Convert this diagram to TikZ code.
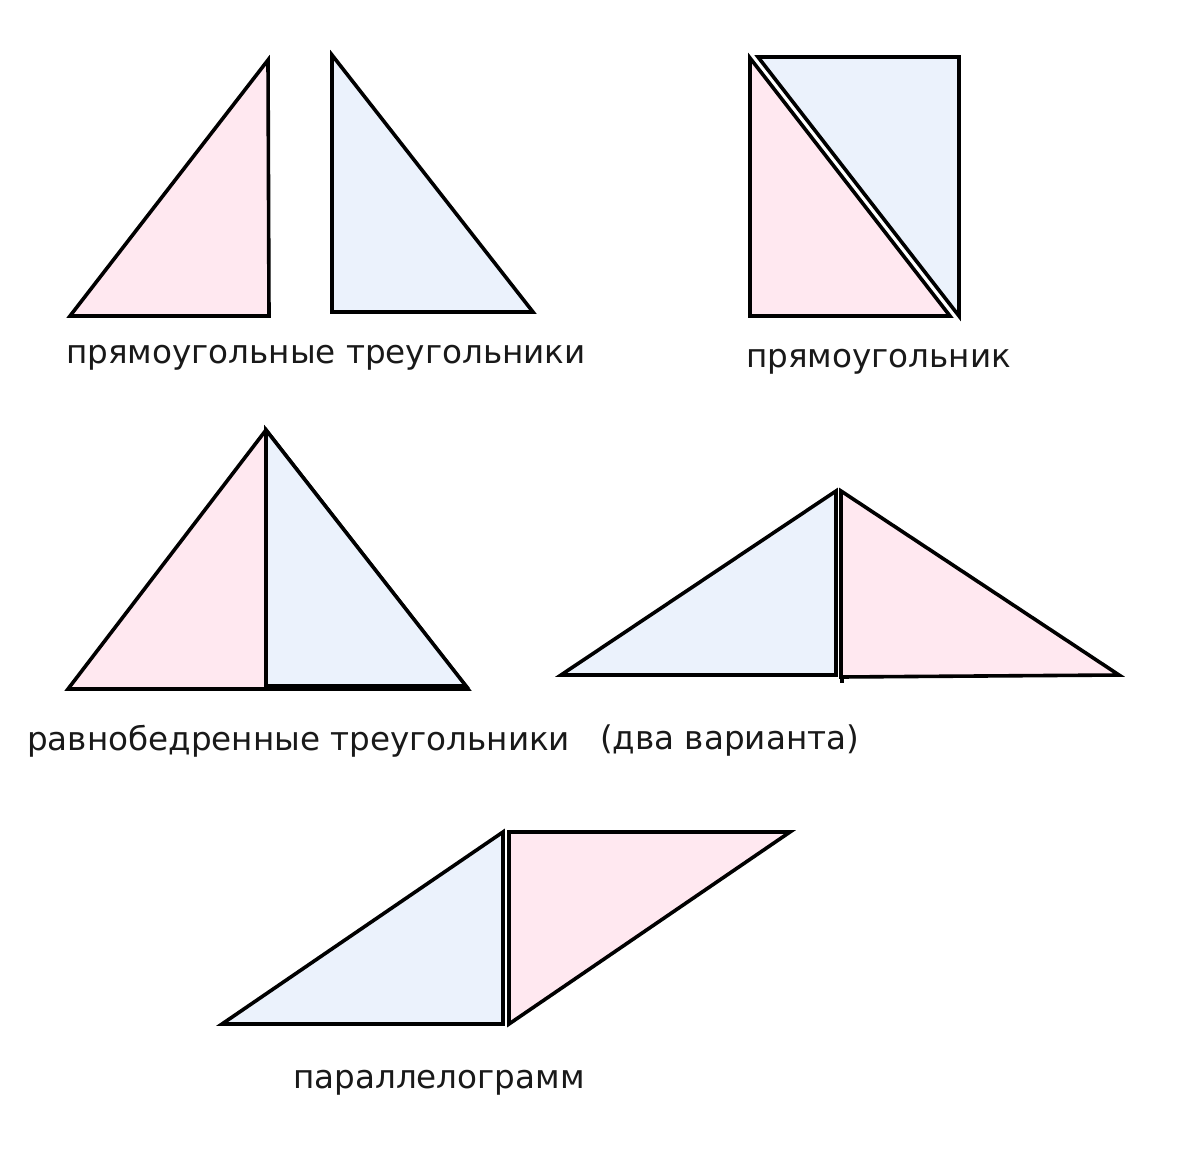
\documentclass[tikz,border=0pt]{standalone}
\usepackage{fontspec}
\setmainfont{DejaVu Sans}
\definecolor{pinkfill}{RGB}{255,232,240}
\definecolor{bluefill}{RGB}{235,242,252}
\tikzset{
  pinktri/.style={fill=pinkfill, draw=black, line width=3.6pt, line join=miter},
  bluetri/.style={fill=bluefill, draw=black, line width=3.6pt, line join=miter},
  lbl/.style={font=\fontsize{32.6}{38}\selectfont, text=black!90, inner sep=0pt, anchor=west}
}
\begin{document}
\begin{tikzpicture}[x=1pt,y=-1pt]
\useasboundingbox[fill=white] (0,0) rectangle (1200,1156);
% right triangles
\draw[pinktri] (70,316) -- (268,60) -- (269,316) -- cycle;
\draw[bluetri] (332,55) -- (332,312) -- (533,312) -- cycle;
\node[lbl] (l1) at (66,358) {прямоугольные треугольники};
% rectangle
\draw[pinktri] (750,58) -- (750,316) -- (950,316) -- cycle;
\draw[bluetri] (758,57) -- (959,57) -- (959,316) -- cycle;
\node[lbl] (l2) at (746,362) {прямоугольник};
% isosceles 1
\draw[pinktri] (266,430) -- (68,689) -- (468,689) -- cycle;
\draw[bluetri] (266,430) -- (266,686) -- (466,686) -- cycle;
\node[lbl] (l3) at (27,741) {равнобедренные треугольники};
% isosceles 2
\draw[bluetri] (561,675) -- (836,491) -- (836,675) -- cycle;
\draw[pinktri] (841,491) -- (841,677) -- (1119,675) -- cycle;
\draw[line width=3.6pt] (842,675) -- (842,683);
\node[lbl] (l4) at (600,741) {(два варианта)};
% parallelogram
\draw[bluetri] (222,1024) -- (503,832) -- (503,1024) -- cycle;
\draw[pinktri] (509,832) -- (790,832) -- (509,1024) -- cycle;
\node[lbl] (l5) at (293,1083) {параллелограмм};
\end{tikzpicture}
\end{document}
